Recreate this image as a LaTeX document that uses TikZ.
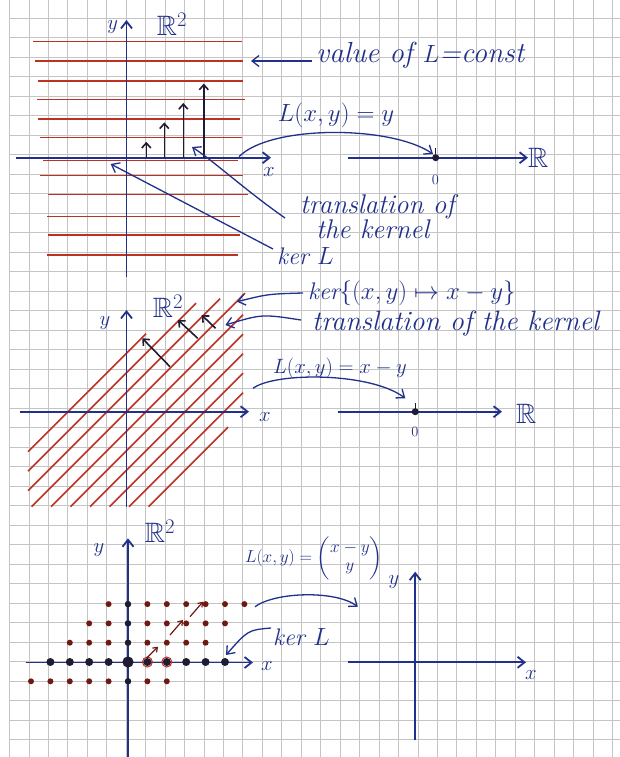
\documentclass[tikz,border=0pt]{standalone}
\usepackage{amsmath,amssymb}
\usetikzlibrary{arrows.meta}
\definecolor{ink}{HTML}{21308A}
\definecolor{dark}{HTML}{1E1B33}
\definecolor{redl}{HTML}{BC3122}
\definecolor{dotc}{HTML}{6E1A12}
\definecolor{gridc}{HTML}{C4C4C4}

\begin{document}
\begin{tikzpicture}[x=1pt,y=-1pt,
    gridline/.style={gridc,line width=0.7pt},
    redline/.style={redl,line width=1.5pt},
    axis/.style={ink,line width=1.8pt,-{Straight Barb[length=7pt,width=11pt]}},
    arr/.style={ink,line width=1.3pt,-{Straight Barb[length=7pt,width=11pt]}},
    vec/.style={dark,line width=1.6pt,-{Straight Barb[length=5pt,width=9pt]}},
    redvec/.style={dotc,line width=1.2pt,-{Straight Barb[length=4pt,width=6pt]}},
    lbl/.style={ink,font=\fontsize{24}{23}\selectfont\itshape,inner sep=0pt},
    axlbl/.style={ink,font=\fontsize{22}{22}\selectfont,inner sep=0pt},
    rlbl/.style={ink,font=\fontsize{28}{28}\selectfont,inner sep=0pt},
]
\useasboundingbox (0,0) rectangle (620,757);
\fill[white] (0,0) rectangle (620,757);

% grid paper
\foreach \i in {0,...,31} \draw[gridline] ({9.4+19.45*\i},0) -- ({9.4+19.45*\i},757);
\foreach \j in {0,...,37} \draw[gridline] (9.4,{18.3+19.5*\j}) -- (620,{18.3+19.5*\j});

% Top: level lines of L(x,y)=y
\foreach \y/\xa/\xb in {41.7/33/242, 61/35/243, 81/38/243, 99.3/37/245, 119/38/240, 137.7/40/242, 160.5/43/238, 175.7/40/243, 194.3/48/248, 216.7/47/240, 235/48/240, 255/47/238}
  \draw[redline] (\xa,\y) -- (\xb,\y);
\draw[axis] (15.8,157.7) -- (271,157.7);
\draw[axis] (126.5,277) -- (126.5,20);
\node[axlbl] (x1) at (269,172) {$x$};
\node[axlbl] (y1) at (112.7,27) {$y$};
\node[rlbl] (plane1) at (172,24) {$\mathbb{R}^2$};
\foreach \x/\t in {146.3/141.8, 164.3/122.4, 183.3/103, 203.8/83.6}
  \draw[vec] (\x,157.7) -- (\x,\t);

\draw[axis] (348,157.7) -- (528,157.7);
\node[rlbl,anchor=west] (R1) at (528,158) {$\mathbb{R}$};
\fill[dark] (435.7,157.7) circle (3.5);
\draw[dark,line width=1.2pt] (435.7,157.7) -- (435.7,148);
\node[ink,font=\fontsize{14}{14}\selectfont] (zero1) at (435.5,180) {$0$};
\coordinate (dom1) at (239,156.7);
\coordinate (orig1) at (433,154);
\draw[arr] (dom1) .. controls (270,125) and (390,125) .. (orig1);

\node[lbl,font=\fontsize{29}{28}\selectfont\itshape,anchor=west] (val) at (316,55) {value of $L$=const};
\coordinate (lvl) at (251,61);
\draw[arr] ([xshift=-4pt,yshift=-6pt]val.west) -- (lvl);
\node[lbl] (lxy1) at (336,115) {$L(x,y)=y$};
\node[lbl,font=\fontsize{27}{22}\selectfont\itshape,align=left,anchor=west] (trans1) at (300,217) {translation of\\\hspace*{16pt}the kernel};
\coordinate (gap1) at (192,147);
\draw[arr] ([xshift=-15pt,yshift=-1pt]trans1.west) .. controls (245,190) and (215,162) .. (gap1);
\node[lbl,anchor=west] (ker1) at (277,256) {ker $L$};
\coordinate (kertip1) at (110.7,164);
\draw[arr] ([xshift=-4pt,yshift=7pt]ker1.west) -- (kertip1);

% Middle: kernel of (x,y) -> x-y
\foreach \k/\xa/\xb in {-3/28/146, -2/28/196, -1/28/220, 0/31.5/245, 1/51/243, 2/70.5/243, 3/90/243, 4/109.5/243, 5/129/243, 6/148.5/228}
  \draw[redline] (\xa,{538.2-\xa+19.5*\k}) -- (\xb,{538.2-\xb+19.5*\k});
\draw[axis] (19.8,411.7) -- (249,411.7);
\draw[axis] (126.5,507) -- (126.5,310);
\node[axlbl] (x2) at (265,417) {$x$};
\node[axlbl] (y2) at (105,323) {$y$};
\node[rlbl] (plane2) at (168,306) {$\mathbb{R}^2$};
\foreach \xa/\ya/\xb/\yb in {170/366.7/142.3/338.3, 197.7/338.3/178/320, 215.5/328.3/201.7/315}
  \draw[vec] (\xa,\ya) -- (\xb,\yb);

\node[lbl,anchor=west] (kerset) at (308,293) {ker$\{(x,y)\mapsto x-y\}$};
\coordinate (kline) at (237,301.7);
\draw[arr] ([xshift=-5pt]kerset.west) .. controls (268,294) .. (kline);
\node[lbl,font=\fontsize{28}{28}\selectfont\itshape,anchor=west] (trans2) at (312,323) {translation of the kernel};
\coordinate (tline) at (225.4,325);
\draw[arr] ([xshift=-11pt,yshift=3pt]trans2.west) .. controls (262,314) .. (tline);
\node[lbl,font=\fontsize{22}{22}\selectfont] (lxy2) at (340,368) {$L(x,y)=x-y$};
\coordinate (dom2) at (253,388.3);
\coordinate (orig2) at (405.3,398.3);
\draw[arr] (dom2) .. controls (275,372) and (370,372) .. (orig2);
\draw[axis] (338,411.7) -- (502,411.7);
\node[rlbl,anchor=west] (R2) at (516,414) {$\mathbb{R}$};
\fill[dark] (415.2,411.7) circle (3.5);
\draw[dark,line width=1.2pt] (415.2,411.7) -- (415.2,403);
\node[ink,font=\fontsize{14}{14}\selectfont] (zero2) at (415,432) {$0$};

% Bottom: lattice and L(x,y)=(x-y,y)
\draw[axis] (25.7,662.5) -- (253,662.5);
\draw[axis] (128,757) -- (128,538.3);
\foreach \j in {-1,...,3}{
  \pgfmathtruncatemacro{\ia}{\j-4}
  \pgfmathtruncatemacro{\ib}{\j+3}
  \foreach \i in {\ia,...,\ib}
    \fill[dotc] ({128+19.4*\i},{662-19.3*\j}) circle (3);
}
\foreach \i in {-4,...,5} \fill[dark] ({128+19.4*\i},662) circle (4);
\foreach \j in {-1,1,2,3} \fill[dark] (128,{662-19.3*\j}) circle (3.2);
\fill[dark] (128,662) circle (5.6);
\foreach \i in {1,2} \draw[redl,line width=1pt] ({128+19.4*\i},662) circle (5);
\foreach \xa/\ya/\xb/\yb in {146.7/658/158/646.7, 170/635/183/620, 190/616.7/203/601.7}
  \draw[redvec] (\xa,\ya) -- (\xb,\yb);
\node[axlbl] (x3) at (267,666) {$x$};
\node[axlbl] (y3) at (99,550) {$y$};
\node[rlbl] (plane3) at (160,531) {$\mathbb{R}^2$};

\node[lbl,font=\fontsize{18}{18}\selectfont] (lxy3) at (314,558) {$L(x,y)=\begin{pmatrix}x-y\\y\end{pmatrix}$};
\coordinate (dom3) at (255,606.7);
\coordinate (img3) at (357.9,606.7);
\draw[arr] (dom3) .. controls (275,592) and (335,590) .. (img3);
\node[lbl,anchor=west] (ker3) at (273,637) {ker $L$};
\coordinate (kertip3) at (226,655);
\draw[arr] ([xshift=-2pt,yshift=9pt]ker3.west) .. controls (248,630) .. (kertip3);

\draw[axis] (348,662.3) -- (526,662.3);
\draw[axis] (415.2,740) -- (415.2,571.7);
\node[axlbl] (y4) at (394,582) {$y$};
\node[axlbl] (x4) at (531,675) {$x$};
\end{tikzpicture}
\end{document}
